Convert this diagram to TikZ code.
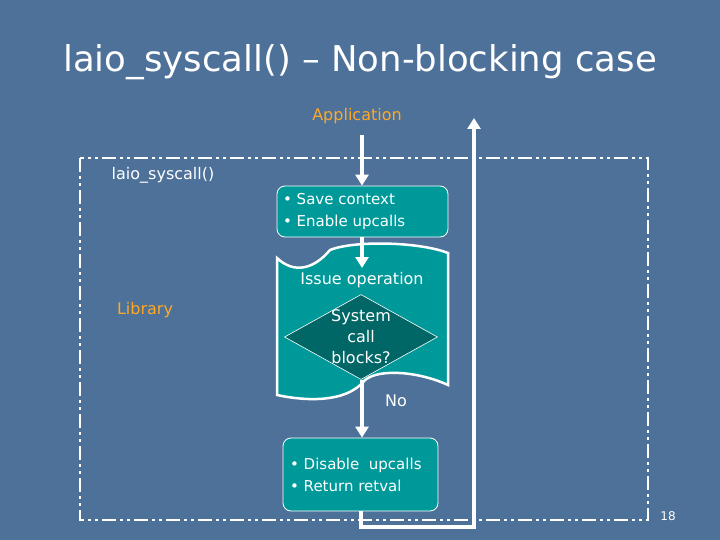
\documentclass[tikz,border=0pt]{standalone}
\usepackage{fontspec}
\setmainfont{DejaVu Sans}
\usetikzlibrary{shapes.geometric,arrows.meta}
\definecolor{bg}{HTML}{4D7199}
\definecolor{teal1}{HTML}{009999}
\definecolor{teal2}{HTML}{006666}
\definecolor{orng}{HTML}{FFA826}
\begin{document}
\begin{tikzpicture}[x=1pt,y=-1pt,
  box/.style={draw=white,fill=teal1,rounded corners=8pt,line width=0.8pt},
  flow/.style={white,line width=4pt,-{Triangle[width=13pt,length=11pt]}},
  lbl/.style={font=\fontsize{15}{22}\selectfont,align=left,anchor=west,white},
  txt/.style={font=\fontsize{16}{18}\selectfont}]
\useasboundingbox (0,0) rectangle (720,540);
\fill[bg] (0,0) rectangle (720,540);
\node (title) at (360,62) {\fontsize{35.5}{42}\selectfont\color{white}laio\_syscall() – Non-blocking case};
\draw[white,line width=2.5pt,dash pattern=on 14pt off 4pt on 3pt off 4pt on 3pt off 4pt] (80,158) rectangle (648,520);
\node[orng,txt] (app) at (357,116) {Application};
\node[white,txt] (lib0) at (163,175) {laio\_syscall()};
\node[orng,txt] (lib) at (145,310) {Library};
% document shape
\draw[white,line width=2.5pt,fill=teal1] (277,258) .. controls (295,275) and (315,268) .. (330,250) .. controls (355,240) and (420,242) .. (448,253)
  -- (448,385) .. controls (420,372) and (380,368) .. (365,380) .. controls (345,405) and (300,400) .. (277,395) -- cycle;
\node[white,txt] (iss) at (362,280) {Issue operation};
\node[diamond,draw=white,fill=teal2,line width=0.6pt,minimum width=153pt,minimum height=85pt,inner sep=0pt,aspect=1.8] (dec) at (361,337) {};
\node[white,txt,align=center,font=\fontsize{16}{21}\selectfont] at (dec) {System\\call\\blocks?};
\node[box,minimum width=171pt,minimum height=51pt] (b1) at (362.5,211.5) {};
\node[lbl] at ([xshift=3pt]b1.west) {• Save context\\• Enable upcalls};
\node[box,minimum width=155pt,minimum height=73pt] (b2) at (360.5,474.5) {};
\node[lbl] at ([xshift=4pt]b2.west) {• Disable\ \ upcalls\\• Return retval};
\node[white,txt] (no) at (396,401) {No};
\coordinate (a0) at (362,135);
\coordinate (d0) at (362,268);
\coordinate (c1) at (361,527);
\coordinate (c2) at (474,527);
\coordinate (c3) at (474,118);
\draw[flow] (a0) -- (b1.north -| a0);
\draw[flow] (b1.south -| a0) -- (d0);
\draw[flow] (dec.south -| a0) -- (b2.north -| a0);
\draw[white,line width=4pt,-{Triangle[width=13pt,length=11pt]}] (b2.south -| c1) -- (c1) -- (c2) -- (c3);
\node[white,font=\fontsize{12}{14}\selectfont] (pg) at (668,516) {18};
\end{tikzpicture}
\end{document}
